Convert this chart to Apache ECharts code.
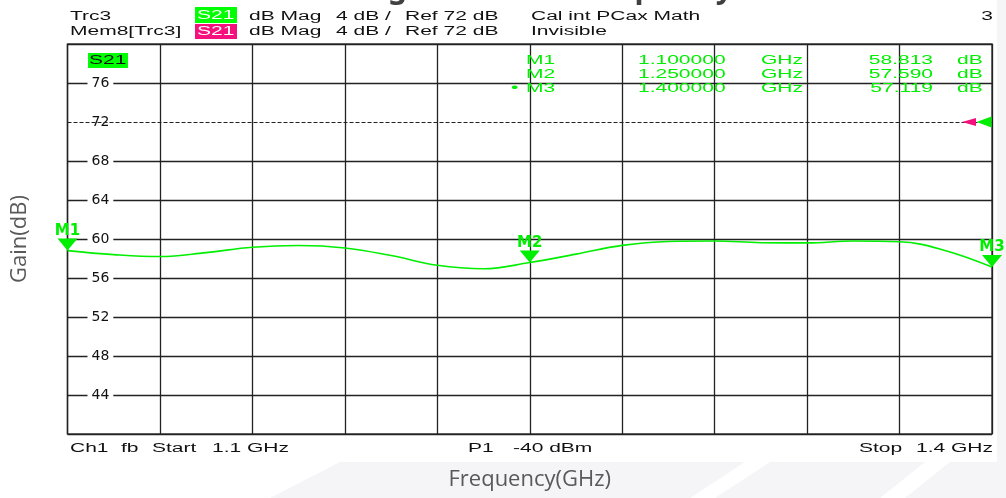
<!DOCTYPE html>
<html>
<head>
<meta charset="utf-8">
<script src="https://cdn.jsdelivr.net/npm/echarts@6/dist/echarts.min.js"></script>
<style>
  html, body { margin: 0; padding: 0; background: #fff; }
  #chart { width: 1006px; height: 498px; }
</style>
</head>
<body>
<div id="chart"></div>
<script>
// trace S21, every 15 MHz
const freqs = [1.100, 1.115, 1.130, 1.145, 1.160, 1.175, 1.190, 1.205, 1.220, 1.235, 1.250,
               1.265, 1.280, 1.295, 1.310, 1.325, 1.340, 1.355, 1.370, 1.385, 1.400]
const gains = [58.81, 58.40, 58.20, 58.60, 59.15, 59.33, 59.08, 58.30, 57.30, 56.95, 57.59,
               58.45, 59.35, 59.75, 59.80, 59.62, 59.60, 59.80, 59.72, 58.80, 57.12]

// markers
const markerNames = ['M1', 'M2', 'M3']
const markerFreqs = [1.100, 1.250, 1.400]
const markerGains = [58.813, 57.590, 57.119]

const yTicks = [44, 48, 52, 56, 60, 64, 68, 72, 76]
const refLevel = 72

const GREEN = '#00ee00'
const PINK = '#f5107e'
const SX = 1.75
const FONT = '12px "Liberation Sans", Arial, sans-serif'

const txt = (x, y, s, fill, align) => ({
  type: 'text', x, y, scaleX: SX, z: 10,
  style: { text: s, font: FONT, fill: fill || '#111', textAlign: align || 'left', textVerticalAlign: 'middle' }
})
const box = (x, y, w, h, fill) => ({ type: 'rect', z: 9, shape: { x, y, width: w, height: h }, style: { fill } })
const band = pts => ({ type: 'polygon', z: -10, shape: { points: pts }, style: { fill: '#f5f5f7' } })

const chart = echarts.init(document.getElementById('chart'))

const graphics = [
  // faint page background behind the screenshot
  band([[270, 498], [340, 462], [745, 462], [690, 498]]),
  band([[715, 498], [770, 462], [925, 462], [880, 498]]),
  band([[905, 498], [950, 462], [1006, 462], [1006, 498]]),
  band([[997, 0], [1006, 0], [1006, 462], [997, 462]]),
  // header rows
  txt(70, 17, 'Trc3'),
  box(195, 7, 42, 16, '#00ff00'),
  txt(197, 16, 'S21', '#fff'),
  txt(249, 17, 'dB Mag'), txt(336, 17, '4 dB /'), txt(405, 17, 'Ref ' + refLevel + ' dB'),
  txt(531, 17, 'Cal int PCax Math'),
  txt(993, 17, '3', '#111', 'right'),
  txt(70, 32, 'Mem8[Trc3]'),
  box(195, 24, 42, 15, PINK),
  txt(197, 32, 'S21', '#fff'),
  txt(249, 32, 'dB Mag'), txt(336, 32, '4 dB /'), txt(405, 32, 'Ref ' + refLevel + ' dB'),
  txt(531, 32, 'Invisible'),
  // trace label inside plot
  box(88, 53, 40, 15, '#00ff00'),
  txt(89, 61, 'S21'),
  // footer
  txt(70, 449, 'Ch1'), txt(121, 449, 'fb'), txt(152, 449, 'Start'),
  txt(212, 449, freqs[0].toFixed(1) + ' GHz'),
  txt(468, 449, 'P1'), txt(513, 449, '-40 dBm'),
  txt(859, 449, 'Stop'),
  txt(993, 449, freqs[freqs.length - 1].toFixed(1) + ' GHz', '#111', 'right')
]

// marker readout table
markerNames.forEach((m, i) => {
  const y = 61 + i * 14
  graphics.push(txt(526, y, m, GREEN))
  graphics.push(txt(638, y, markerFreqs[i].toFixed(6), GREEN))
  graphics.push(txt(761, y, 'GHz', GREEN))
  graphics.push(txt(933, y, markerGains[i].toFixed(3), GREEN, 'right'))
  graphics.push(txt(957, y, 'dB', GREEN))
})
graphics.push(txt(511, 89, '•', GREEN))

const option = {
  backgroundColor: '#fff',
  animation: false,
  title: {
    text: 'Small Signal Gain vs Frequency',
    left: 'center',
    top: -31,
    textStyle: { fontSize: 30, fontWeight: 'bold', color: '#404040', fontFamily: 'Noto Sans' }
  },
  grid: {
    left: 67.5, right: 14, top: 44, bottom: 64,
    show: true, borderColor: '#444', borderWidth: 1.5, backgroundColor: '#fff'
  },
  xAxis: [
    {
      type: 'value', min: 1.1, max: 1.4,
      name: 'Frequency(GHz)', nameLocation: 'middle', nameGap: 35,
      nameTextStyle: { fontSize: 22, color: '#595959', fontFamily: 'Open Sans' },
      axisLine: { show: false }, axisTick: { show: false }, axisLabel: { show: false },
      splitLine: { show: false }
    },
    {
      // 10 screen divisions
      type: 'value', min: 0, max: 10, interval: 1, position: 'bottom',
      axisLine: { show: false }, axisTick: { show: false }, axisLabel: { show: false },
      splitLine: { show: true, lineStyle: { color: '#222', width: 1.3 } }
    }
  ],
  yAxis: [
    {
      type: 'value', min: 40, max: 80, interval: 4, z: 3,
      name: 'Gain(dB)', nameLocation: 'middle', nameGap: 37,
      nameTextStyle: { fontSize: 22, color: '#595959', fontFamily: 'Open Sans' },
      axisLine: { show: false }, axisTick: { show: false },
      splitLine: { show: false },
      axisLabel: {
        inside: true, margin: 20, showMinLabel: false, showMaxLabel: false,
        formatter: v => (yTicks.indexOf(v) >= 0 ? String(v) : ''),
        color: '#111', fontFamily: 'DejaVu Sans', fontSize: 14,
        backgroundColor: '#fff', padding: [0, 4]
      }
    },
    {
      type: 'value', min: 40, max: 80, interval: 4, z: 0,
      axisLine: { show: false }, axisTick: { show: false }, axisLabel: { show: false },
      splitLine: {
        show: true,
        lineStyle: {
          width: 1.3,
          color: [40, 44, 48, 52, 56, 60, 64, 68, 72, 76, 80].map(v => (v === refLevel ? 'transparent' : '#222'))
        }
      }
    }
  ],
  series: [
    {
      name: 'Trc3 S21',
      type: 'line',
      xAxisIndex: 0, yAxisIndex: 0,
      data: freqs.map((f, i) => [f, gains[i]]),
      smooth: 0.4,
      showSymbol: false,
      lineStyle: { color: GREEN, width: 1.6 },
      markLine: {
        silent: true, symbol: 'none', label: { show: false },
        lineStyle: { color: '#222', type: [4, 2], width: 1.2 },
        data: [{ yAxis: refLevel }]
      },
      markPoint: {
        silent: true,
        data: markerNames.map((m, i) => ({
          name: m, coord: [markerFreqs[i], markerGains[i]],
          symbol: 'triangle', symbolRotate: 180, symbolSize: [20, 12], symbolOffset: [0, -6],
          itemStyle: { color: GREEN },
          label: {
            show: true, position: 'top', distance: 0, formatter: '{b}',
            color: GREEN, fontFamily: 'DejaVu Sans', fontSize: 15, fontWeight: 'bold'
          }
        })).concat([
          {
            name: 'refPink', coord: [1.4, refLevel], symbol: 'triangle', symbolRotate: 90,
            symbolSize: [8, 14], symbolOffset: [-23, 0], itemStyle: { color: PINK }, label: { show: false }
          },
          {
            name: 'refGreen', coord: [1.4, refLevel], symbol: 'triangle', symbolRotate: 90,
            symbolSize: [11, 15], symbolOffset: [-8, 0], itemStyle: { color: GREEN }, label: { show: false }
          }
        ])
      }
    }
  ],
  graphic: graphics
}

chart.setOption(option)
</script>
</body>
</html>
